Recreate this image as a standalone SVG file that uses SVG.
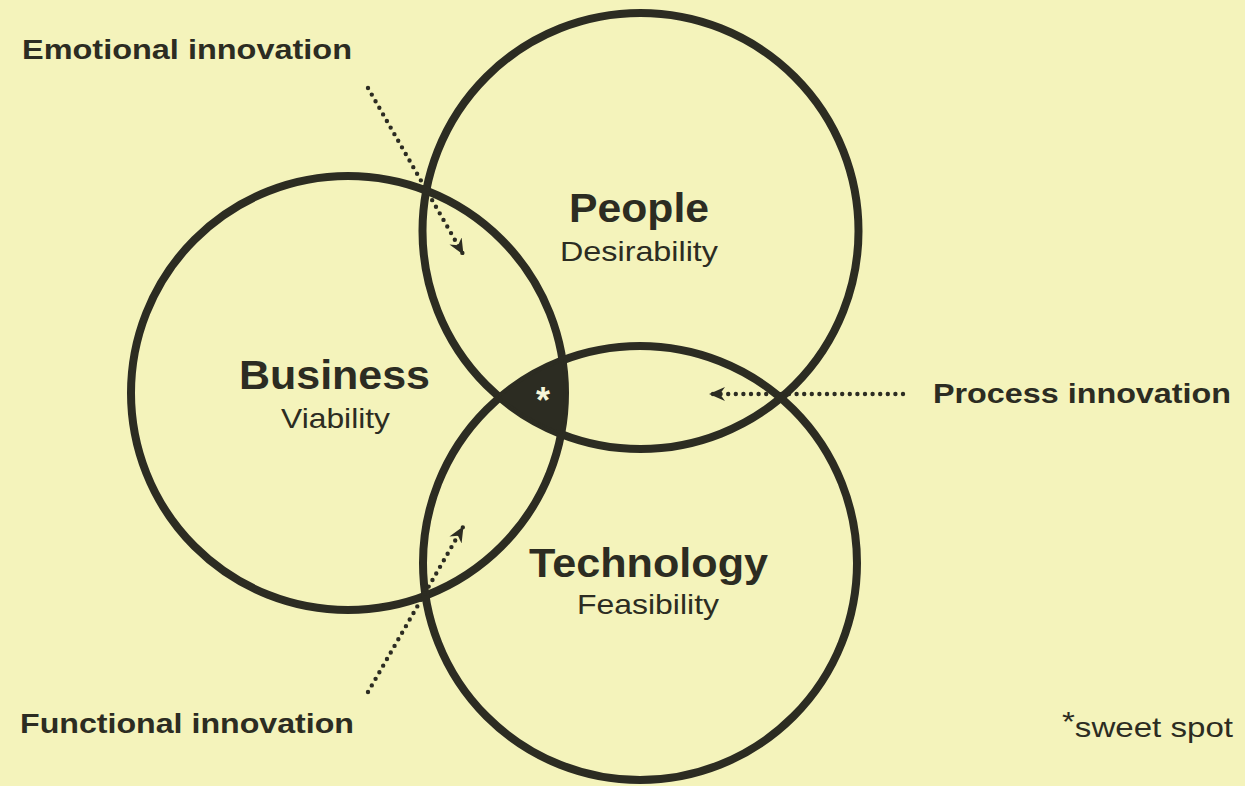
<svg xmlns="http://www.w3.org/2000/svg" width="1245" height="786" viewBox="0 0 1245 786">
<style>
.c{fill:none;stroke:#2c2c22;stroke-width:8}
.b{font-family:"Liberation Sans",Arial,sans-serif;font-weight:bold;fill:#2c2c22}
.r{font-family:"Liberation Sans",Arial,sans-serif;fill:#2c2c22}
.d{fill:none;stroke:#2c2c22;stroke-width:4.4;stroke-linecap:round;stroke-dasharray:0 7.6}
</style>
<defs>
<marker id="ah" viewBox="0 0 16 14" refX="15" refY="7" markerWidth="16" markerHeight="14" markerUnits="userSpaceOnUse" orient="auto">
<path d="M0,0 L16,7 L0,14 L5,7 Z" fill="#2c2c22"/>
</marker>
</defs>
<rect width="1245" height="786" fill="#f4f3bb"/>
<g id="people"><circle class="c" cx="640.5" cy="231" r="218"/>
<text class="b" x="639" y="222" font-size="40" text-anchor="middle" textLength="140" lengthAdjust="spacingAndGlyphs">People</text>
<text class="r" x="639" y="261" font-size="28" text-anchor="middle" textLength="158" lengthAdjust="spacingAndGlyphs">Desirability</text></g>
<g id="business"><circle class="c" cx="348" cy="393" r="217"/>
<text class="b" x="334.5" y="389" font-size="40" text-anchor="middle" textLength="191" lengthAdjust="spacingAndGlyphs">Business</text>
<text class="r" x="335.5" y="428" font-size="28" text-anchor="middle" textLength="109" lengthAdjust="spacingAndGlyphs">Viability</text></g>
<g id="technology"><circle class="c" cx="640" cy="563" r="217"/>
<text class="b" x="648.5" y="577" font-size="40" text-anchor="middle" textLength="239" lengthAdjust="spacingAndGlyphs">Technology</text>
<text class="r" x="648" y="614" font-size="28" text-anchor="middle" textLength="142" lengthAdjust="spacingAndGlyphs">Feasibility</text></g>
<g id="sweetspot"><path d="M498.7,397 A217,217 0 0 1 562.5,360.3 A217,217 0 0 1 561.2,433.2 A218,218 0 0 1 498.7,397 Z" fill="#2c2c22" stroke="#2c2c22" stroke-width="2"/>
<text x="543" y="413" font-size="36" text-anchor="middle" font-family="Liberation Sans, Arial, sans-serif" font-weight="bold" fill="#f7f6d8">*</text></g>
<g id="connectors">
<path class="d" d="M368,88 L463,254" marker-end="url(#ah)"/>
<path class="d" d="M368,692 L463,527" marker-end="url(#ah)"/>
<path class="d" d="M903,394 L710,394" marker-end="url(#ah)"/>
</g>
<g id="labels">
<text class="b" x="22" y="59" font-size="28" textLength="330" lengthAdjust="spacingAndGlyphs">Emotional innovation</text>
<text class="b" x="933" y="403" font-size="28" textLength="298" lengthAdjust="spacingAndGlyphs">Process innovation</text>
<text class="b" x="20" y="733" font-size="28" textLength="334" lengthAdjust="spacingAndGlyphs">Functional innovation</text>
<text class="r" x="1062" y="737" font-size="28" textLength="171" lengthAdjust="spacingAndGlyphs"><tspan dy="-6">*</tspan><tspan dy="6">sweet spot</tspan></text>
</g>
</svg>
